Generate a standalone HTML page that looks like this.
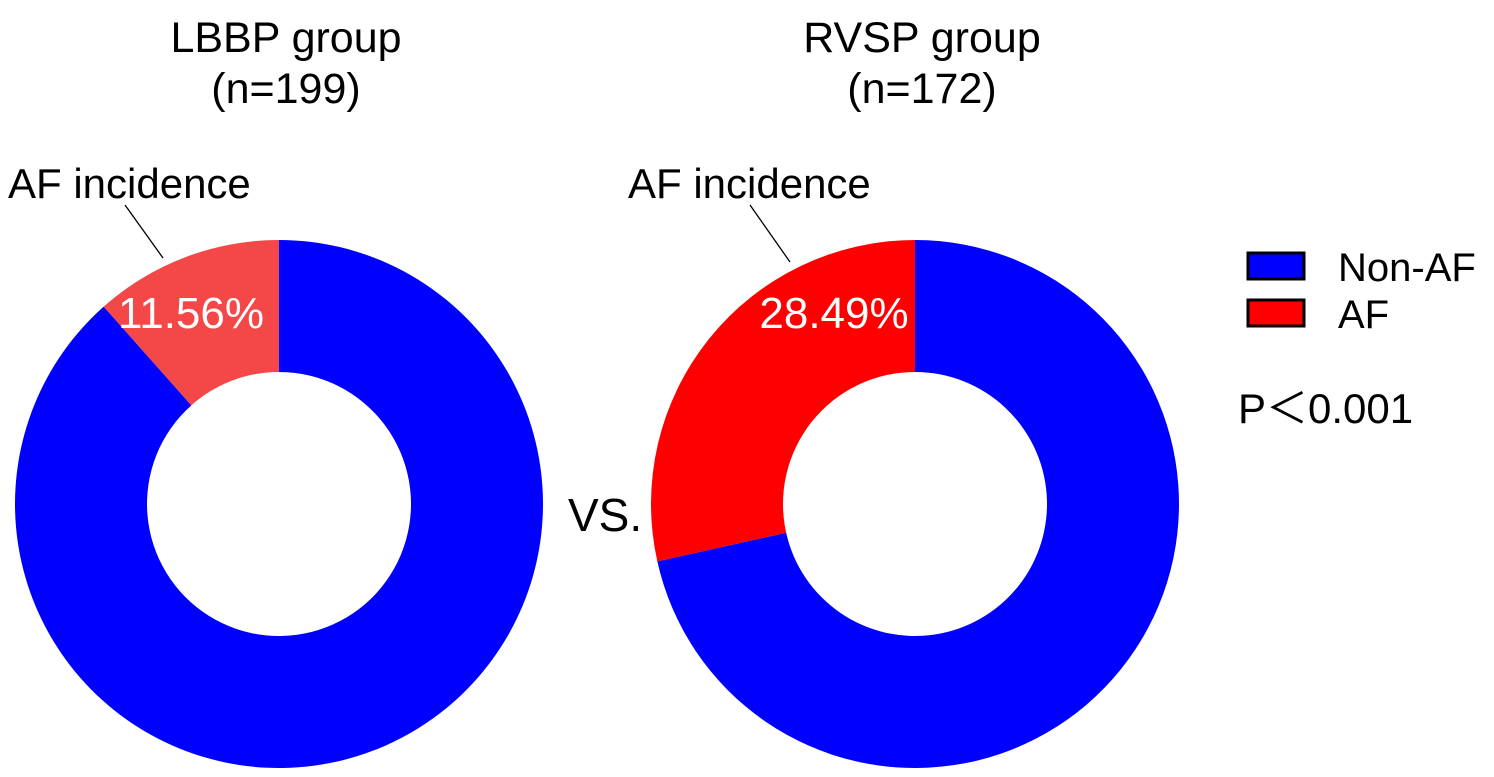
<!DOCTYPE html>
<html><head><meta charset="utf-8"><style>
body{margin:0;background:#fff}
svg{display:block;font-family:"Liberation Sans",Arial,sans-serif}
</style></head><body>
<svg width="1494" height="777">
<g id="charts"></g>
<text x="286" y="52" font-size="43" text-anchor="middle">LBBP group</text>
<text x="286" y="103" font-size="43" text-anchor="middle">(n=199)</text>
<text x="922" y="52" font-size="43" text-anchor="middle">RVSP group</text>
<text x="922" y="103" font-size="43" text-anchor="middle">(n=172)</text>
<text x="8" y="198" font-size="42">AF incidence</text>
<line x1="125" y1="205" x2="163" y2="258" stroke="#000" stroke-width="1.3"/>
<text x="628" y="198" font-size="42">AF incidence</text>
<line x1="750" y1="205" x2="790" y2="262" stroke="#000" stroke-width="1.3"/>
<text x="568" y="531" font-size="46">VS.</text>
<rect x="1248" y="253" width="56" height="26" fill="#0000ff" stroke="#000" stroke-width="3"/>
<text x="1338" y="281" font-size="40">Non-AF</text>
<rect x="1248" y="300" width="56" height="26" fill="#ff0000" stroke="#000" stroke-width="3"/>
<text x="1338" y="328" font-size="40">AF</text>
<text x="1238" y="423" font-size="42">P＜0.001</text>
</svg>
<script>
const groups=["LBBP","RVSP"];
const afPercent=[11.56,28.49];
const afColors=["#f44848","#ff0000"];
const centersX=[279,915], cy=504, R=264, r=132;
const labelX=[191,834];
const g=document.getElementById('charts');
const NS="http://www.w3.org/2000/svg";
function pt(cx,rad,frac){const a=frac*2*Math.PI;return [cx-rad*Math.sin(a),cy-rad*Math.cos(a)];}
function arc(cx,f0,f1){
 const [x0,y0]=pt(cx,R,f0),[x1,y1]=pt(cx,R,f1),[x2,y2]=pt(cx,r,f1),[x3,y3]=pt(cx,r,f0);
 const large=(f1-f0)>0.5?1:0;
 return `M${x0},${y0}A${R},${R} 0 ${large} 0 ${x1},${y1}L${x2},${y2}A${r},${r} 0 ${large} 1 ${x3},${y3}Z`;}
groups.forEach((grp,i)=>{
 const f=afPercent[i]/100,cx=centersX[i];
 const p1=document.createElementNS(NS,'path');p1.setAttribute('d',arc(cx,f,1));p1.setAttribute('fill','#0000ff');
 
 
 g.appendChild(p1);
 const p2=document.createElementNS(NS,'path');p2.setAttribute('d',arc(cx,0,f));p2.setAttribute('fill',afColors[i]);
 
 
 g.appendChild(p2);
 const t=document.createElementNS(NS,'text');
 t.setAttribute('x',labelX[i]);t.setAttribute('y',328);t.setAttribute('font-size','44');t.setAttribute('fill','#fff');t.setAttribute('text-anchor','middle');
 t.textContent=afPercent[i].toFixed(2)+'%';
 
 
 g.appendChild(t);
});
</script>
</body></html>
